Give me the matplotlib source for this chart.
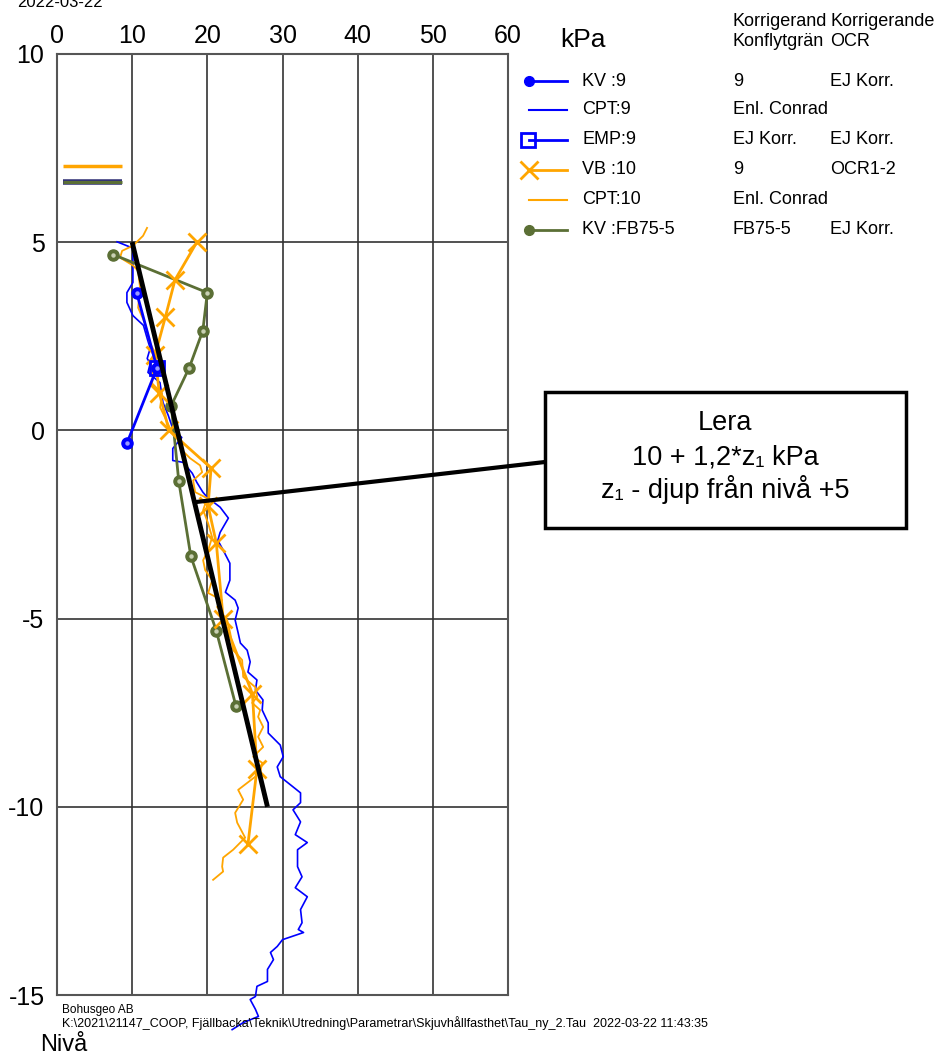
import matplotlib
matplotlib.use("Agg")
import matplotlib.pyplot as plt
from matplotlib.patches import Rectangle

plt.rcParams['font.family'] = ['Liberation Sans', 'DejaVu Sans']
plt.rcParams['axes.unicode_minus'] = False

# ---------------- data ----------------
x_ticks = [0, 10, 20, 30, 40, 50, 60]
y_ticks = [10, 5, 0, -5, -10, -15]

kv9_x = [10.6, 13.3, 9.3]
kv9_y = [3.66, 1.66, -0.34]

emp9_x = [13.3]
emp9_y = [1.67]

vb10_x = [18.6, 15.7, 14.4, 13.05, 13.6, 14.9, 20.5, 20.1, 21.2, 22.1, 26.0, 26.6, 25.4]
vb10_y = [5.0, 4.0, 3.0, 2.0, 1.0, 0.0, -1.0, -2.0, -3.0, -5.0, -7.0, -9.0, -11.0]

fb_x = [7.5, 20.0, 19.4, 17.6, 15.2, 16.2, 17.8, 21.2, 23.8]
fb_y = [4.67, 3.66, 2.65, 1.67, 0.66, -1.35, -3.34, -5.33, -7.32]

cpt9_x = [8.0, 10.0, 10.1, 10.1, 9.3, 9.3, 10.1, 11.5, 12.0, 12.4, 12.0, 12.4, 12.1, 13.7,
          14.1, 14.8, 15.4, 16.6, 15.4, 15.4, 16.8, 18.0, 18.6, 19.4, 20.0, 21.7, 22.8, 21.7,
          21.4, 22.1, 23.0, 23.0, 22.4, 23.7, 24.1, 23.7, 24.1, 24.4, 25.3, 25.7, 25.4, 26.6,
          26.4, 27.4, 27.3, 28.1, 28.1, 29.7, 30.1, 29.3, 29.7, 31.4, 32.4, 32.4, 31.4, 32.4,
          31.7, 33.3, 32.0, 32.0, 32.6, 31.7, 33.3, 32.4, 32.6, 32.1, 32.8, 30.0, 29.3, 28.4,
          28.8, 28.0, 28.0, 26.6, 26.4, 25.7, 26.4, 26.8, 24.8, 23.3]
cpt9_y = [5.01, 4.85, 4.77, 3.93, 3.66, 3.40, 3.05, 2.79, 2.44, 2.18, 1.91, 1.78, 1.54, 1.27,
          0.74, 0.40, 0.05, -0.19, -0.48, -0.80, -0.85, -1.14, -1.38, -1.64, -1.78, -2.04, -2.33, -2.71,
          -2.92, -3.18, -3.53, -3.98, -4.30, -4.51, -4.72, -5.04, -5.38, -5.65, -5.84, -6.15, -6.42, -6.63,
          -6.90, -7.16, -7.43, -7.77, -8.04, -8.36, -8.67, -8.94, -9.20, -9.47, -9.63, -9.89, -10.08, -10.40,
          -10.74, -10.95, -11.14, -11.59, -11.86, -12.15, -12.39, -12.73, -13.08, -13.26, -13.34, -13.53, -13.71, -13.87,
          -14.06, -14.32, -14.64, -14.77, -15.04, -15.12, -15.38, -15.57, -15.73, -15.92]

cpt10_x = [11.98, 11.45, 10.12, 8.66, 8.39, 10.12, 10.79, 11.05, 10.79, 11.72, 12.38, 13.05, 12.38,
           12.78, 12.65, 13.98, 13.72, 14.38, 15.05, 15.98, 16.64, 17.71, 19.04, 19.31, 18.11, 18.38,
           19.97, 19.44, 20.11, 20.64, 20.11, 19.44, 19.71, 20.64, 20.11, 21.97, 21.30, 22.64, 23.04,
           23.44, 24.63, 24.77, 26.37, 26.63, 25.97, 27.03, 26.76, 27.43, 26.76, 27.43, 26.10, 27.30,
           27.03, 24.10, 24.77, 23.70, 23.97, 25.03, 23.44, 22.10, 21.97, 22.10, 20.77]
cpt10_y = [5.38, 5.17, 4.91, 4.77, 4.59, 4.38, 4.24, 3.79, 3.26, 2.84, 2.31, 2.07, 1.86,
           1.51, 1.25, 0.98, 0.61, 0.34, 0.05, -0.19, -0.53, -0.74, -0.93, -1.11, -1.33, -1.64,
           -1.80, -2.12, -2.47, -2.84, -3.18, -3.45, -3.71, -3.98, -4.32, -4.51, -4.69, -5.04, -5.38,
           -5.84, -6.10, -6.55, -6.82, -7.08, -7.24, -7.43, -7.61, -7.88, -8.14, -8.41, -8.67, -8.83,
           -9.10, -9.55, -9.81, -10.16, -10.42, -10.82, -11.14, -11.35, -11.59, -11.72, -11.94]

# design line 10 + 1,2*z1
design_x = [10, 28]
design_y = [5, -10]
anno_xy = (18.6, -1.9)

legend_labels = ["KV :9", "CPT:9", "EMP:9", "VB :10", "CPT:10", "KV :FB75-5"]
legend_col2 = ["9", "Enl. Conrad", "EJ Korr.", "9", "Enl. Conrad", "FB75-5"]
legend_col3 = ["EJ Korr.", "", "EJ Korr.", "OCR1-2", "", "EJ Korr."]

BLUE = '#0000ff'
ORANGE = '#ffa500'
GREEN = '#5b6f35'

W, H = 942, 1058
fig = plt.figure(figsize=(W / 100, H / 100), dpi=100)
ax = fig.add_axes([57 / W, 1 - 995 / H, (508 - 57) / W, (995 - 54) / H])
ax.set_xlim(0, 60)
ax.set_ylim(-15, 10)
ax.set_xticks(x_ticks)
ax.set_yticks(y_ticks)
ax.xaxis.tick_top()
ax.tick_params(length=0, labelsize=18)
ax.tick_params(axis='x', pad=4)
ax.tick_params(axis='y', pad=9)
for s in ax.spines.values():
    s.set_color('#555555')
    s.set_linewidth(1.5)
for xv in x_ticks[1:-1]:
    ax.axvline(xv, color='#333333', lw=1.2, zorder=1)
for yv in y_ticks[1:-1]:
    ax.axhline(yv, color='#333333', lw=1.2, zorder=1)

# legend fragments inside axes (top-left)
ax.plot([0.8, 8.7], [7.03, 7.03], color=ORANGE, lw=2.5, solid_capstyle='butt', zorder=3)
ax.plot([0.8, 8.7], [6.6, 6.6], color='#333377', lw=4, solid_capstyle='butt', zorder=3)
ax.plot([0.8, 8.7], [6.6, 6.6], color=GREEN, lw=2.2, solid_capstyle='butt', zorder=3)

# series
ax.plot(cpt9_x, cpt9_y, color=BLUE, lw=1.2, clip_on=False, zorder=3)
ax.plot(cpt10_x, cpt10_y, color=ORANGE, lw=1.3, clip_on=False, zorder=3)
ax.plot(fb_x, fb_y, color=GREEN, lw=2, marker='o', ms=8, mec=GREEN, zorder=4)
ax.plot(fb_x, fb_y, ls='none', marker='o', ms=2.2, color='#c9d1b4', zorder=5)
ax.plot(vb10_x, vb10_y, color=ORANGE, lw=2, marker='x', ms=13, mew=2, zorder=4)
ax.plot(kv9_x, kv9_y, color=BLUE, lw=2, marker='o', ms=8, zorder=4)
ax.plot(kv9_x, kv9_y, ls='none', marker='o', ms=2.2, color='#9999ff', zorder=5)
ax.plot(emp9_x, emp9_y, ls='none', marker='s', ms=10, mfc='none', mec=BLUE, mew=2, zorder=5)
ax.plot(design_x, design_y, color='black', lw=3.5, zorder=6, solid_capstyle='butt')

ax.annotate('', xy=anno_xy, xycoords='data', xytext=(545, H - 462), textcoords='figure pixels',
            arrowprops=dict(arrowstyle='-', lw=3, color='black', shrinkA=0, shrinkB=0), zorder=7)

# overlay in pixel coordinates
ov = fig.add_axes([0, 0, 1, 1], zorder=10)
ov.set_xlim(0, W)
ov.set_ylim(H, 0)
ov.axis('off')
ov.patch.set_alpha(0)

ov.add_patch(Rectangle((545, 392), 361, 136, facecolor='white', edgecolor='black', lw=2.5))
ov.text(725, 423, "Lera", ha='center', va='center', fontsize=19.5)
ov.text(725, 457, "10 + 1,2*z₁ kPa", ha='center', va='center', fontsize=19.5)
ov.text(725, 490, "z₁ - djup från nivå +5", ha='center', va='center', fontsize=19.5)

ov.text(560, 40, "kPa", ha='left', va='center', fontsize=19)
ov.text(733, 22, "Korrigerand", ha='left', va='center', fontsize=13)
ov.text(830, 22, "Korrigerande", ha='left', va='center', fontsize=13)
ov.text(733, 41, "Konflytgrän", ha='left', va='center', fontsize=13)
ov.text(830, 41, "OCR", ha='left', va='center', fontsize=13)

row_y = [81, 110, 140, 170, 200, 230]
styles = [
    dict(color=BLUE, lw=2, marker='o', ms=7),
    dict(color=BLUE, lw=1.5),
    dict(color=BLUE, lw=2),
    dict(color=ORANGE, lw=2),
    dict(color=ORANGE, lw=1.5),
    dict(color=GREEN, lw=2, marker='o', ms=7),
]
for i, (lab, c2, c3) in enumerate(zip(legend_labels, legend_col2, legend_col3)):
    yy = row_y[i]
    st = styles[i]
    ov.plot([529, 567], [yy, yy], markevery=[0], **st)
    if i == 2:
        ov.plot([528], [yy], marker='s', ms=10, mfc='none', mec=BLUE, mew=2)
    if i == 3:
        ov.plot([529], [yy], marker='x', ms=13, mew=2, color=ORANGE)
    ov.text(582, yy, lab, ha='left', va='center', fontsize=13)
    ov.text(733, yy, c2, ha='left', va='center', fontsize=13)
    if c3:
        ov.text(830, yy, c3, ha='left', va='center', fontsize=13)

ov.text(17, 7, "2022-03-22", ha='left', va='baseline', fontsize=12)
ov.text(62, 1010, "Bohusgeo AB", ha='left', va='center', fontsize=8.5)
ov.text(62, 1023, "K:\\2021\\21147_COOP, Fjällbacka\\Teknik\\Utredning\\Parametrar\\Skjuvhållfasthet\\Tau_ny_2.Tau  2022-03-22 11:43:35",
        ha='left', va='center', fontsize=9)
ov.text(40, 1045, "Nivå", ha='left', va='center', fontsize=17)

fig.savefig("out.png", dpi=100)
